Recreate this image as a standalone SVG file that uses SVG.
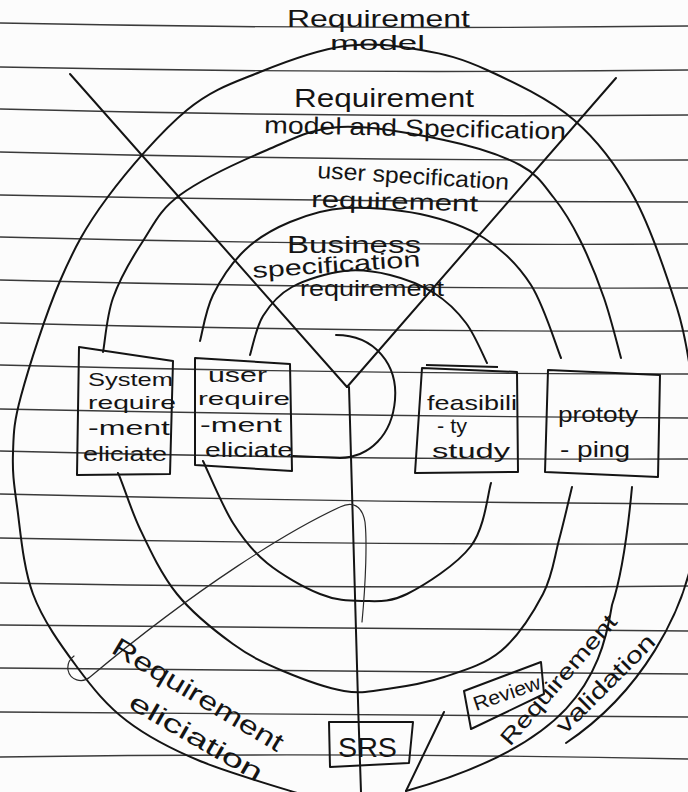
<svg xmlns="http://www.w3.org/2000/svg" width="688" height="792" viewBox="0 0 688 792">
<defs>
<style>
.rule{fill:none;stroke:#3a3a3a;stroke-width:1.4}
.arc{fill:none;stroke:#141414;stroke-width:2;stroke-linecap:round;stroke-linejoin:round}
.thin{fill:none;stroke:#2a2a2a;stroke-width:1.2;stroke-linecap:round}
.box{fill:none;stroke:#141414;stroke-width:2;stroke-linejoin:round}
.t{font-family:"Liberation Sans",Arial,sans-serif;fill:#141414}
</style>
</defs>
<rect x="0" y="0" width="688" height="792" fill="#fcfcfc"/>
<g id="paper-lines">
<path class="rule" d="M0,23 Q344,30 688,26"/>
<path class="rule" d="M0,67 Q344,74 688,70"/>
<path class="rule" d="M0,109 Q344,118 688,115"/>
<path class="rule" d="M0,152 Q344,161 688,160"/>
<path class="rule" d="M0,195 Q344,202 688,202"/>
<path class="rule" d="M0,237 Q344,246 688,244"/>
<path class="rule" d="M0,280 Q344,289 688,288"/>
<path class="rule" d="M0,323 Q344,332 688,331"/>
<path class="rule" d="M0,365 Q344,374 688,374"/>
<path class="rule" d="M0,409 Q344,416 688,418"/>
<path class="rule" d="M0,451 Q344,460 688,459"/>
<path class="rule" d="M0,494 Q344,502 688,504"/>
<path class="rule" d="M0,538 Q344,545 688,544"/>
<path class="rule" d="M0,583 Q344,589 688,586"/>
<path class="rule" d="M0,625 Q344,628 688,631"/>
<path class="rule" d="M0,668 Q344,670 688,674"/>
<path class="rule" d="M0,712 Q344,714 688,717"/>
<path class="rule" d="M0,757 Q344,752 688,759"/>
</g>
<g id="connectors">
<path class="arc" d="M310,797 C291.7,791 230.5,773.7 200,761 C169.5,748.3 147.5,736.7 127,721 C106.5,705.3 92.7,688.2 77,667 C61.3,645.8 43,620.8 33,594 C23,567.2 20.3,529.5 17,506 C13.7,482.5 12.3,471.3 13,453 C13.7,434.7 13.2,424.7 21,396 C28.8,367.3 45.7,314 60,281 C74.3,248 85.8,226.5 107,198 C128.2,169.5 161.5,131 187,110 C212.5,89 233.7,82.7 260,72 C286.3,61.3 318.2,49.7 345,46 C371.8,42.3 397.3,46 421,50 C444.7,54 461.5,58.3 487,70 C512.5,81.7 549.5,98.8 574,120 C598.5,141.2 616.8,165.7 634,197 C651.2,228.3 667.3,277.5 677,308 C686.7,338.5 689.5,368 692,380"/>
<path class="arc" d="M692,560 C682,610 645,690 566,743"/>
<path class="arc" d="M103,352 C104.7,345.5 106.3,317 113,298 C119.7,279 131.8,258.2 143,241 C154.2,223.8 159.3,210.2 180,195 C200.7,179.8 240.3,161.3 267,150 C293.7,138.7 310.5,128.7 340,127 C369.5,125.3 414,133.7 444,140 C474,146.3 501.7,155.3 520,165 C538.3,174.7 544,185.5 554,198 C564,210.5 571.7,223.3 580,240 C588.3,256.7 597.2,278.3 604,298 C610.8,317.7 618.2,348 621,358"/>
<path class="arc" d="M200,341 C202.2,333.3 205.5,310.2 213,295 C220.5,279.8 232.2,262.2 245,250 C257.8,237.8 273.3,229 290,222 C306.7,215 323.3,209.3 345,208 C366.7,206.7 396.8,209 420,214 C443.2,219 465.5,226.2 484,238 C502.5,249.8 518.2,265 531,285 C543.8,305 556,345.8 561,358"/>
<path class="arc" d="M250,355 C252.2,348.5 256,327.3 263,316 C270,304.7 278.5,294.5 292,287 C305.5,279.5 327.7,273 344,271 C360.3,269 375,271.3 390,275 C405,278.7 421.3,285 434,293 C446.7,301 457.2,311.3 466,323 C474.8,334.7 483.5,356.3 487,363"/>
<path class="arc" d="M336,335 C375,335 398,365 395,400 C392,435 370,457 340,458 L293,456"/>
<path class="arc" d="M203,461 C208,471.3 222.3,506 233,523 C243.7,540 252.5,551.2 267,563 C281.5,574.8 304.2,587.7 320,594 C335.8,600.3 347.5,601 362,601 C376.5,601 388.8,603.2 407,594 C425.2,584.8 457,564.5 471,546 C485,527.5 487.7,493.5 491,483"/>
<path class="arc" d="M118,473 C121.7,479.8 130.2,508.3 140,529 C149.8,549.7 161.5,574.8 177,594 C192.5,613.2 215.3,631.2 233,644 C250.7,656.8 264.5,663.2 283,671 C301.5,678.8 326.7,688 344,691 C361.3,694 370.3,691.3 387,689 C403.7,686.7 425,683.3 444,677 C463,670.7 484.5,664.8 501,651 C517.5,637.2 533.3,612.5 543,594 C552.7,575.5 554.2,557.8 559,540 C563.8,522.2 569.8,495.8 572,487"/>
<path class="arc" d="M632,487 C628,530 622,575 612,605 C600,680 570,745 406,791"/>
<path class="arc" d="M444,712 L406,791"/>
<path class="arc" d="M70,74 L347,387"/>
<path class="arc" d="M616,78 L347,387"/>
<path class="arc" d="M349,387 C352,500 356,650 361,792"/>
<path class="thin" d="M362,622 C366,580 367,540 365,522 C362,505 352,501 340,507 C290,530 200,585 90,677 C82,684 70,680 68,670 C67,663 70,659 74,656"/>
</g>
<g id="label-requirement-model">
<text class="t" x="287" y="27" font-size="24" textLength="183" lengthAdjust="spacingAndGlyphs">Requirement</text>
<text class="t" x="330" y="50" font-size="20" textLength="95" lengthAdjust="spacingAndGlyphs">model</text>
</g>
<g id="label-model-spec">
<text class="t" x="294" y="107" font-size="25" textLength="180" lengthAdjust="spacingAndGlyphs">Requirement</text>
<text class="t" x="264" y="133" font-size="24" textLength="302" lengthAdjust="spacingAndGlyphs" transform="rotate(1.2 264 133)">model and Specification</text>
</g>
<g id="label-user-spec">
<text class="t" x="317" y="178" font-size="23" textLength="192" lengthAdjust="spacingAndGlyphs" transform="rotate(3.5 317 178)">user specification</text>
<text class="t" x="311" y="207" font-size="23" textLength="167" lengthAdjust="spacingAndGlyphs" transform="rotate(1.5 311 207)">requirement</text>
</g>
<g id="label-business-spec">
<text class="t" x="287" y="253" font-size="24" textLength="134" lengthAdjust="spacingAndGlyphs">Business</text>
<text class="t" x="253" y="278" font-size="22" textLength="168" lengthAdjust="spacingAndGlyphs" transform="rotate(-4 253 278)">specification</text>
<text class="t" x="300" y="296" font-size="22" textLength="144" lengthAdjust="spacingAndGlyphs">requirement</text>
</g>
<g id="node-system-req">
<polygon class="box" points="79,347 173,361 170,474 77,475"/>
<text class="t" x="88" y="386" font-size="19" textLength="85" lengthAdjust="spacingAndGlyphs">System</text>
<text class="t" x="88" y="409" font-size="19" textLength="88" lengthAdjust="spacingAndGlyphs">require</text>
<text class="t" x="88" y="435" font-size="20" textLength="82" lengthAdjust="spacingAndGlyphs">-ment</text>
<text class="t" x="83" y="461" font-size="20" textLength="84" lengthAdjust="spacingAndGlyphs">eliciate</text>
</g>
<g id="node-user-req">
<polygon class="box" points="195,358 290,364 292,471 195,465"/>
<text class="t" x="208" y="382" font-size="20" textLength="59" lengthAdjust="spacingAndGlyphs">user</text>
<text class="t" x="198" y="405" font-size="19" textLength="92" lengthAdjust="spacingAndGlyphs">require</text>
<text class="t" x="200" y="432" font-size="20" textLength="82" lengthAdjust="spacingAndGlyphs">-ment</text>
<text class="t" x="205" y="457" font-size="20" textLength="88" lengthAdjust="spacingAndGlyphs">eliciate</text>
</g>
<g id="node-feasibility">
<polygon class="box" points="422,368 517,372 518,472 415,473"/>
<path class="box" d="M426,365 L498,367"/>
<text class="t" x="427" y="410" font-size="21" textLength="90" lengthAdjust="spacingAndGlyphs">feasibili</text>
<text class="t" x="437" y="433" font-size="21" textLength="30" lengthAdjust="spacingAndGlyphs">- ty</text>
<text class="t" x="432" y="458" font-size="21" textLength="78" lengthAdjust="spacingAndGlyphs">study</text>
</g>
<g id="node-prototyping">
<polygon class="box" points="548,370 660,375 658,477 545,472"/>
<text class="t" x="558" y="422" font-size="22" textLength="80" lengthAdjust="spacingAndGlyphs">prototy</text>
<text class="t" x="560" y="457" font-size="22" textLength="70" lengthAdjust="spacingAndGlyphs">- ping</text>
</g>
<g id="node-srs">
<polygon class="box" points="329,722 413,722 409,763 330,767"/>
<text class="t" x="338" y="757" font-size="28" textLength="59" lengthAdjust="spacingAndGlyphs">SRS</text>
</g>
<g id="node-review">
<polygon class="box" points="464,691 541,662 544,694 471,729"/>
<text class="t" x="476" y="711" font-size="20" textLength="70" lengthAdjust="spacingAndGlyphs" transform="rotate(-19 476 711)">Review</text>
</g>
<g id="label-elicitation">
<text class="t" x="110" y="652" font-size="26" textLength="195" lengthAdjust="spacingAndGlyphs" transform="rotate(31 110 652)">Requirement</text>
<text class="t" x="127" y="707" font-size="25" textLength="150" lengthAdjust="spacingAndGlyphs" transform="rotate(30 127 707)">eliciation</text>
</g>
<g id="label-validation">
<text class="t" x="510" y="747" font-size="22" textLength="165" lengthAdjust="spacingAndGlyphs" transform="rotate(-49 510 747)">Requirement</text>
<text class="t" x="565" y="735" font-size="23" textLength="130" lengthAdjust="spacingAndGlyphs" transform="rotate(-45 565 735)">validation</text>
</g>
</svg>
